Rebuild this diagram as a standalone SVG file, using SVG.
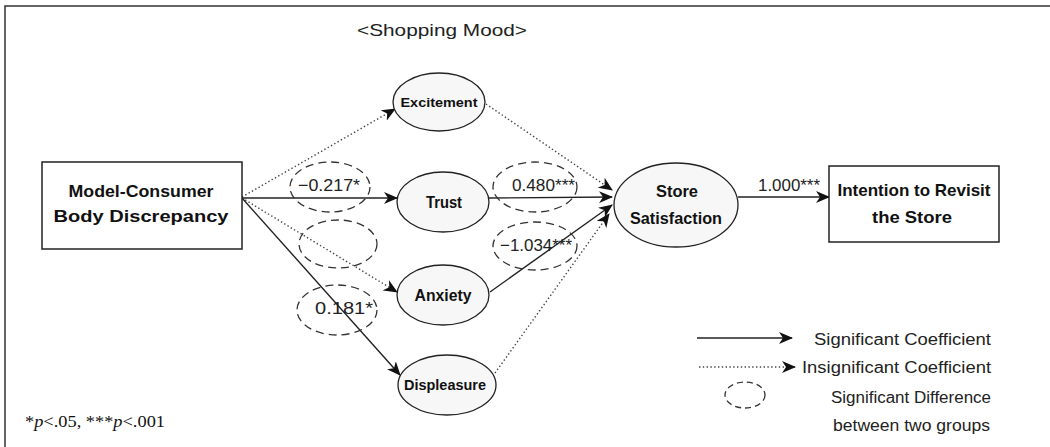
<svg xmlns="http://www.w3.org/2000/svg" width="1050" height="447" viewBox="0 0 1050 447">
<defs>
<marker id="ah" markerUnits="userSpaceOnUse" markerWidth="14" markerHeight="12" viewBox="0 0 14 12" refX="13" refY="6" orient="auto">
<path d="M0,0 L14,6 L0,12 L4,6 Z" fill="#111"/>
</marker>
<style>
.box{fill:#fff;stroke:#222;stroke-width:1.5}
.node{fill:#f7f7f7;stroke:#222;stroke-width:1.3}
.sig{fill:none;stroke:#222;stroke-width:1.4}
.ins{fill:none;stroke:#444;stroke-width:1.4;stroke-dasharray:1.4 2.4}
.diff{fill:none;stroke:#333;stroke-width:1.3;stroke-dasharray:8 5}
.nl{font-family:"Liberation Sans",Arial,sans-serif;font-weight:bold;fill:#111;text-anchor:middle}
.lb{font-family:"Liberation Sans",Arial,sans-serif;fill:#222}
</style>
</defs>
<rect x="5" y="6" width="1080" height="470" fill="#fff" stroke="#333" stroke-width="1.5"/>
<text class="lb" x="357" y="36" font-size="17" textLength="170" lengthAdjust="spacingAndGlyphs">&lt;Shopping Mood&gt;</text>

<g id="connectors">
<line class="ins" x1="242" y1="197" x2="395" y2="109" marker-end="url(#ah)"/>
<line class="sig" x1="242" y1="198" x2="397" y2="198" marker-end="url(#ah)"/>
<line class="ins" x1="242" y1="198" x2="397" y2="292" marker-end="url(#ah)"/>
<line class="sig" x1="242" y1="198" x2="400" y2="375" marker-end="url(#ah)"/>
<line class="ins" x1="486" y1="104" x2="612" y2="190" marker-end="url(#ah)"/>
<line class="sig" x1="489" y1="198" x2="612" y2="197" marker-end="url(#ah)"/>
<line class="sig" x1="490" y1="292" x2="612" y2="205" marker-end="url(#ah)"/>
<line class="ins" x1="495" y1="373" x2="609" y2="214" marker-end="url(#ah)"/>
<line class="sig" x1="738" y1="197" x2="829" y2="197" marker-end="url(#ah)"/>
</g>

<g id="node-body">
<rect class="box" x="42" y="162" width="200" height="87"/>
<text class="nl" x="141" y="197" font-size="17" textLength="145" lengthAdjust="spacingAndGlyphs">Model-Consumer</text>
<text class="nl" x="141" y="222" font-size="17" textLength="175" lengthAdjust="spacingAndGlyphs">Body Discrepancy</text>
</g>
<g id="node-excitement">
<ellipse class="node" cx="439" cy="102" rx="46" ry="29"/>
<text class="nl" x="439" y="107" font-size="13" textLength="77" lengthAdjust="spacingAndGlyphs">Excitement</text>
</g>
<g id="node-trust">
<ellipse class="node" cx="443" cy="202" rx="46" ry="30"/>
<text class="nl" x="444" y="208" font-size="17" textLength="36" lengthAdjust="spacingAndGlyphs">Trust</text>
</g>
<g id="node-anxiety">
<ellipse class="node" cx="443" cy="295" rx="46" ry="30"/>
<text class="nl" x="443" y="301" font-size="17" textLength="57" lengthAdjust="spacingAndGlyphs">Anxiety</text>
</g>
<g id="node-displeasure">
<ellipse class="node" cx="447" cy="385" rx="49" ry="30"/>
<text class="nl" x="445" y="390" font-size="15" textLength="82" lengthAdjust="spacingAndGlyphs">Displeasure</text>
</g>
<g id="node-satisfaction">
<ellipse class="node" cx="676" cy="205" rx="62" ry="42"/>
<text class="nl" x="677" y="197" font-size="17" textLength="42" lengthAdjust="spacingAndGlyphs">Store</text>
<text class="nl" x="676" y="224" font-size="17" textLength="92" lengthAdjust="spacingAndGlyphs">Satisfaction</text>
</g>
<g id="node-intention">
<rect class="box" x="829" y="166" width="170" height="76"/>
<text class="nl" x="914" y="196" font-size="17" textLength="153" lengthAdjust="spacingAndGlyphs">Intention to Revisit</text>
<text class="nl" x="912" y="223" font-size="17" textLength="80" lengthAdjust="spacingAndGlyphs">the Store</text>
</g>

<g id="labels">
<ellipse class="diff" cx="330" cy="187" rx="40" ry="25"/>
<text class="lb" x="298" y="191" font-size="17" textLength="62" lengthAdjust="spacingAndGlyphs">−0.217*</text>
<ellipse class="diff" cx="535" cy="187" rx="42" ry="25"/>
<text class="lb" x="512" y="191" font-size="17" textLength="63" lengthAdjust="spacingAndGlyphs">0.480***</text>
<ellipse class="diff" cx="338" cy="244" rx="39" ry="24"/>
<ellipse class="diff" cx="535" cy="246" rx="42" ry="24"/>
<text class="lb" x="500" y="251" font-size="17" textLength="72" lengthAdjust="spacingAndGlyphs">−1.034***</text>
<ellipse class="diff" cx="337" cy="310" rx="40" ry="25"/>
<text class="lb" x="315" y="314" font-size="17" textLength="58" lengthAdjust="spacingAndGlyphs">0.181*</text>
<text class="lb" x="758" y="191" font-size="17" textLength="62" lengthAdjust="spacingAndGlyphs">1.000***</text>
</g>

<g id="legend">
<line class="sig" x1="697" y1="338" x2="792" y2="338" marker-end="url(#ah)"/>
<text class="lb" x="814" y="345" font-size="16" textLength="177" lengthAdjust="spacingAndGlyphs">Significant Coefficient</text>
<line class="ins" x1="699" y1="367" x2="795" y2="367" marker-end="url(#ah)"/>
<text class="lb" x="802" y="373" font-size="16" textLength="189" lengthAdjust="spacingAndGlyphs">Insignificant Coefficient</text>
<ellipse class="diff" cx="745" cy="395" rx="20" ry="13" style="stroke-dasharray:6 4"/>
<text class="lb" x="831" y="403" font-size="16" textLength="160" lengthAdjust="spacingAndGlyphs">Significant Difference</text>
<text class="lb" x="833" y="431" font-size="16" textLength="157" lengthAdjust="spacingAndGlyphs">between two groups</text>
</g>

<text x="25" y="427" font-family="'Liberation Serif','Times New Roman',serif" font-size="17" fill="#111" textLength="140" lengthAdjust="spacingAndGlyphs">*<tspan font-style="italic">p</tspan>&lt;.05, ***<tspan font-style="italic">p</tspan>&lt;.001</text>
</svg>
